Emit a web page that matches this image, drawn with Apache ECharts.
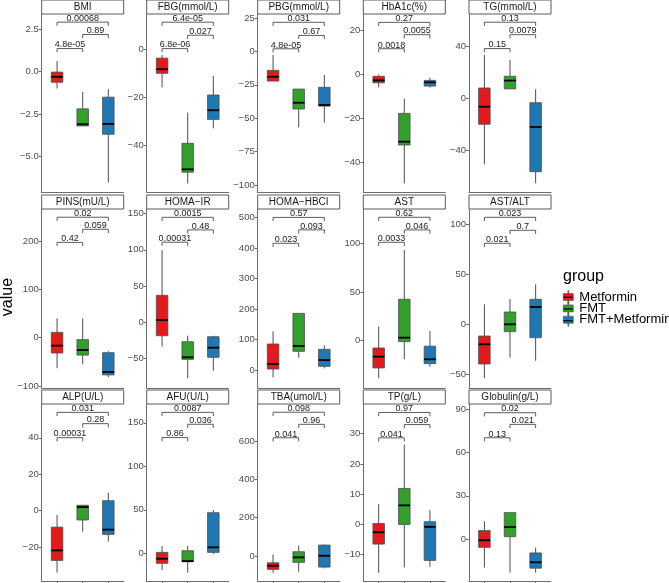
<!DOCTYPE html>
<html><head><meta charset="utf-8">
<script src="https://cdn.jsdelivr.net/npm/echarts@6/dist/echarts.min.js"></script>
<style>html,body{margin:0;padding:0;background:#fff}#c{width:669px;height:583px}</style>
</head><body><div id="c"></div>
<script>
const panelNames = ['BMI','FBG(mmol/L)','PBG(mmol/L)','HbA1c(%)','TG(mmol/L)','PINS(mU/L)','HOMA\u2212IR','HOMA\u2212HBCI','AST','AST/ALT','ALP(U/L)','AFU(U/L)','TBA(umol/L)','TP(g/L)','Globulin(g/L)'];
const groups = ['Metformin','FMT','FMT+Metformin'];
const groupColors = ['#E31A1C','#33A02C','#1F78B4'];
// [min, Q1, median, Q3, max]
const metforminStats = [
  [-1.0,-0.63,-0.31,-0.03,0.63],[-15.8,-10.0,-8.3,-3.7,-2.4],[-22.2,-22.2,-19.0,-14.2,-2.8],[-6.1,-4.0,-2.9,-1.05,-0.3],[-50.8,-20,-6.5,7.9,33.3],
  [-63,-31.7,-16.5,11,40],[-33.6,-18.5,3.2,37.2,99.7],[-24,3.3,19.7,85.4,127],[-38.6,-28,-16.4,-7.5,14.4],[-54,-39.7,-20,-11.7,20],
  [-34,-27.3,-21.8,-9,-2.4],[-19.2,-11.5,-6.2,1.1,8.4],[-87,-69.4,-50.6,-35,8.7],[-16,-6.5,-2.6,0.3,6.7],[-19.9,-5.8,-0.9,5.8,12.3]
];
const fmtStats = [
  [-3.21,-3.21,-3.11,-2.20,-1.20],[-55.7,-51.0,-49.8,-39.0,-26.3],[-56.8,-43.1,-38.4,-28.2,-28.2],[-49.8,-32.3,-30.8,-17.9,-11.2],[7.2,7.2,13.6,16.9,29.5],
  [-55,-36,-25.5,-4,40],[-77.2,-51.1,-48.3,-26.8,-18.5],[40.4,61.4,78.8,186,186],[-19.1,-1,3.1,42.5,93.1],[-33.4,-7.4,0,12.3,25.3],
  [-11.5,-5.1,2,3,3],[-22.3,-9.7,-8.9,3,8.4],[-81.7,-33,-6.9,22.6,53.8],[-14.2,0,6.3,11.9,26.4],[-23.4,1.6,8.3,18.3,18.3]
];
const fmtMetforminStats = [
  [-6.55,-3.70,-3.09,-1.51,-1.04],[-32.8,-29.1,-25.3,-19.0,-11.1],[-53.3,-40.9,-40.1,-26.9,-17.7],[-6.2,-5.5,-3.8,-2.9,-1.7],[-65.4,-56.5,-22.1,-3.4,6.9],
  [-82,-77,-71,-31,-28],[-66.8,-48.3,-35,-19.9,-18.5],[5.5,12.1,32.8,68,81],[-26.7,-23.6,-19.1,-5.7,10],[-36.4,-13.4,17.3,25,40],
  [-17,-13,-10.4,5.5,9.9],[-0.8,1.1,6.9,46.7,49.8],[-64,-57.4,1.7,57.4,61],[-14,-11.9,-0.8,0.9,4.7],[-23.4,-20.3,-16.2,-9.7,-6]
];
const yRanges = [
  [-7.11,3.40],[-59.2,14.6],[-105.1,27.9],[-53.7,27.3],[-72.1,64.8],
  [-104,266],[-90.6,156.3],[-59,528.6],[-48.6,135.2],[-63.7,115.3],
  [-38.6,58.6],[-31.8,171.6],[-130,793],[-18.7,39.8],[-29.2,93.75]
];
const yTicks = [
  [-5,-2.5,0,2.5],[-40,-20,0],[-100,-75,-50,-25,0,25],[-40,-20,0,20],[-40,0,40],
  [-100,0,100,200],[-50,0,50,100,150],[0,100,200,300,400,500],[0,50,100],[-50,0,50,100],
  [-20,0,20,40],[0,50,100,150],[0,200,400,600],[-10,0,10,20,30],[0,30,60,90]
];
// comparisons: [Metformin vs FMT+Metformin, FMT vs FMT+Metformin, Metformin vs FMT]
const comparisons = [[1,3],[2,3],[1,2]];
const bracketY = [
  [2.92,2.19,1.36],[11.2,5.8,0.25],[21.7,11.9,1.9],[23.5,17.9,11.5],[58.5,48.9,38.2],
  [249,224,197],[144.8,127.4,110.5],[501,460,416],[126.7,113.7,101],[107,94,81],
  [54,47.8,40.1],[162,148.3,133],[750,687,617],[37,33,28.6],[87.7,79.6,70.3]
];
const pLabels = [
  ['0.00068','0.89','4.8e-05'],['6.4e-05','0.027','6.8e-06'],['0.031','0.67','4.8e-05'],['0.27','0.0055','0.0018'],['0.13','0.0079','0.15'],
  ['0.02','0.059','0.42'],['0.0015','0.48','0.00031'],['0.57','0.093','0.023'],['0.62','0.046','0.0033'],['0.023','0.7','0.021'],
  ['0.031','0.28','0.00031'],['0.0087','0.036','0.86'],['0.098','0.96','0.041'],['0.97','0.059','0.041'],['0.02','0.021','0.13']
];

// ---- layout ----
const FONT = '"Liberation Sans", Arial, sans-serif';
const colLeft = [41.7, 146.7, 257.7, 363.3, 469];
const panelW = 82;
const rowTop = [14, 209, 404];
const rowH = [178, 179, 177];
const stripH = 14;
const BOX_W = 0.45;
const AXIS_COLOR = '#6e6e6e';
const LEG_LEFT = 563, LEG_TOP = 290.3, LEG_ITEM_H = 14, LEG_GAP = -2.3;

const chart = echarts.init(document.getElementById('c'), null, {renderer:'canvas'});
const statsByGroup = [metforminStats, fmtStats, fmtMetforminStats];

function fmtTick(i, v){
  let s = (i === 0) ? v.toFixed(1) : String(v);
  return s.replace('-', '\u2212');
}

function boxRender(color){
  return function(params, api){
    const x = api.value(0);
    const mn = api.coord([x, api.value(1)]);
    const q1 = api.coord([x, api.value(2)]);
    const md = api.coord([x, api.value(3)]);
    const q3 = api.coord([x, api.value(4)]);
    const mx = api.coord([x, api.value(5)]);
    const hw = api.size([BOX_W, 0])[0] / 2;
    const cx = md[0];
    return {type:'group', children:[
      {type:'line', shape:{x1:cx,y1:mx[1],x2:cx,y2:q3[1]}, style:{stroke:'#4d4d4d', lineWidth:1}},
      {type:'line', shape:{x1:cx,y1:q1[1],x2:cx,y2:mn[1]}, style:{stroke:'#4d4d4d', lineWidth:1}},
      {type:'rect', shape:{x:cx-hw,y:q3[1],width:2*hw,height:Math.max(q1[1]-q3[1],0.5)}, style:{fill:color, stroke:'#4d4d4d', lineWidth:0.8}},
      {type:'line', shape:{x1:cx-hw,y1:md[1],x2:cx+hw,y2:md[1]}, style:{stroke:'#000', lineWidth:1.8}}
    ]};
  };
}

function bracketRender(labels){
  return function(params, api){
    const a = api.coord([api.value(0), api.value(2)]);
    const b = api.coord([api.value(1), api.value(2)]);
    const tip = 3.7;
    return {type:'group', children:[
      {type:'polyline', shape:{points:[[a[0],a[1]+tip],[a[0],a[1]],[b[0],b[1]],[b[0],b[1]+tip]]}, style:{stroke:'#333', lineWidth:0.8, fill:null}},
      {type:'text', x:(a[0]+b[0])/2, y:a[1]+0.8, style:{text:labels[params.dataIndex], fill:'#1a1a1a', font:'9px '+FONT, align:'center', verticalAlign:'bottom'}}
    ]};
  };
}

const grids = [], xAxes = [], yAxes = [], series = [], graphics = [];
panelNames.forEach((name, i) => {
  const r = Math.floor(i/5), c = i % 5;
  const left = colLeft[c], top = rowTop[r], h = rowH[r];
  grids.push({left:left, top:top, width:panelW, height:h, containLabel:false, outerBoundsMode:'none'});
  xAxes.push({type:'value', gridIndex:i, min:0.4, max:3.6,
    axisLine:{show:true, onZero:false, lineStyle:{color:AXIS_COLOR, width:1}},
    axisTick:{show: r===2, length:3, customValues:[1,2,3], lineStyle:{color:AXIS_COLOR}},
    axisLabel:{show:false}, splitLine:{show:false}});
  yAxes.push({type:'value', gridIndex:i, min:yRanges[i][0], max:yRanges[i][1],
    axisLine:{show:true, onZero:false, lineStyle:{color:AXIS_COLOR, width:1}},
    axisTick:{show:true, length:3, customValues:yTicks[i], lineStyle:{color:AXIS_COLOR}},
    axisLabel:{show:true, customValues:yTicks[i], margin:3, color:'#4d4d4d', fontSize:9.5, fontFamily:FONT,
      formatter:(v)=>fmtTick(i, v)},
    splitLine:{show:false}});
  groups.forEach((g, gi) => {
    const st = statsByGroup[gi][i];
    series.push({type:'custom', name:g, xAxisIndex:i, yAxisIndex:i,
      itemStyle:{color:groupColors[gi]},
      encode:{x:0, y:[1,2,3,4,5]},
      data:[[gi+1].concat(st)],
      renderItem: boxRender(groupColors[gi]), silent:true});
  });
  series.push({type:'custom', xAxisIndex:i, yAxisIndex:i,
    encode:{x:[0,1], y:2},
    data: comparisons.map((cmp, k) => [cmp[0], cmp[1], bracketY[i][k]]),
    renderItem: bracketRender(pLabels[i]), silent:true});
  // strip
  graphics.push({type:'rect', shape:{x:left, y:top-stripH, width:panelW, height:stripH},
    style:{fill:'#fff', stroke:'#5a5a5a', lineWidth:1}, silent:true});
  graphics.push({type:'text', x:left+panelW/2, y:top-stripH/2, style:{text:name, fill:'#1a1a1a', font:'10px '+FONT, align:'center', verticalAlign:'middle'}, silent:true});
});

// y title
graphics.push({type:'text', x:8, y:297, rotation:Math.PI/2, style:{text:'value', fill:'#000', font:'16px '+FONT, align:'center', verticalAlign:'middle'}, silent:true});
// legend title
graphics.push({type:'text', x:LEG_LEFT, y:277, style:{text:'group', fill:'#000', font:'16px '+FONT, align:'left', verticalAlign:'middle'}, silent:true});
// legend key medians
groups.forEach((g, k) => {
  const yc = LEG_TOP + k*(LEG_ITEM_H + LEG_GAP) + LEG_ITEM_H/2;
  graphics.push({type:'line', shape:{x1:LEG_LEFT+0.4, y1:yc, x2:LEG_LEFT+9.6, y2:yc}, style:{stroke:'#000', lineWidth:1.2}, silent:true, z:100});
});

const option = {
  animation:false,
  textStyle:{fontFamily:FONT},
  grid:grids, xAxis:xAxes, yAxis:yAxes, series:series,
  legend:{show:true, orient:'vertical', left:LEG_LEFT, top:LEG_TOP, padding:0, itemWidth:10, itemHeight:LEG_ITEM_H, itemGap:LEG_GAP,
    icon:'path://M4.6,0h0.8v3h-0.8z M0,3h10v7h-10z M4.6,10h0.8v3h-0.8z',
    itemStyle:{borderColor:'#4d4d4d', borderWidth:0.6},
    data:groups, selectedMode:false,
    textStyle:{fontSize:13, color:'#000', fontFamily:FONT, padding:[0,0,0,1]}},
  graphic:graphics
};
chart.setOption(option);
</script>
</body></html>
